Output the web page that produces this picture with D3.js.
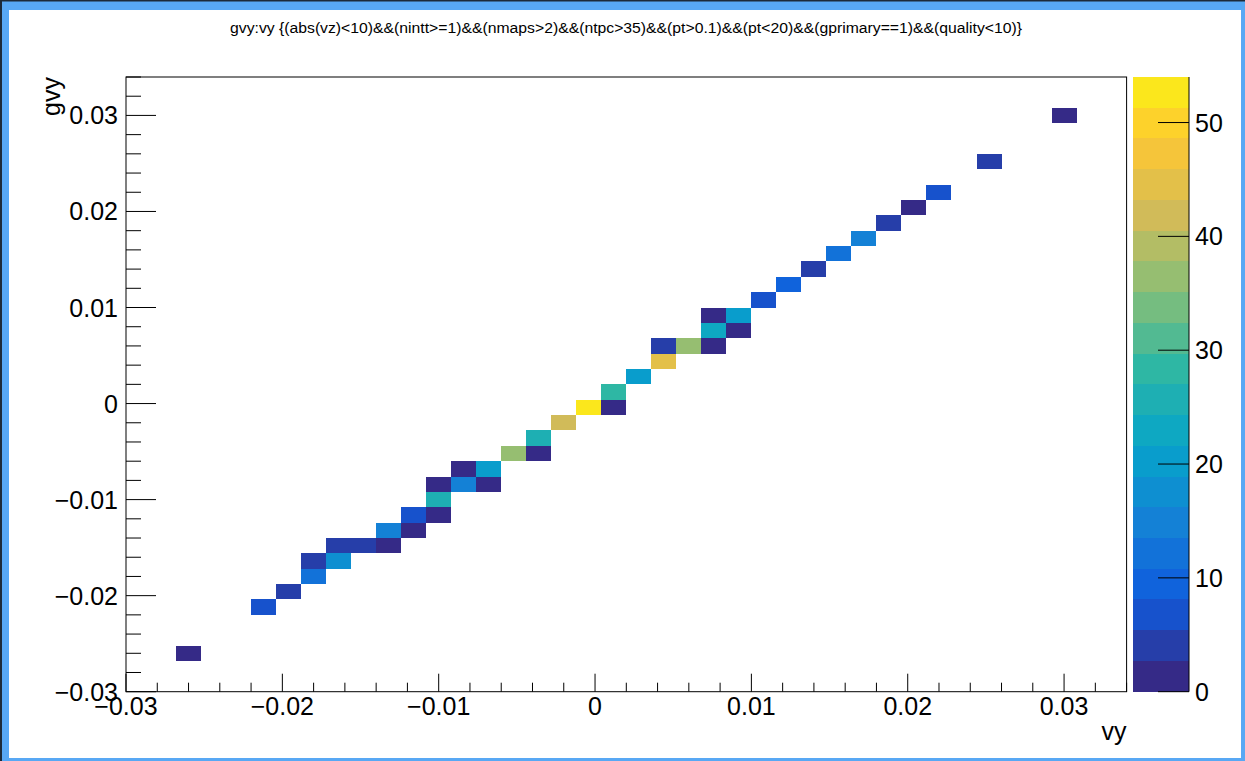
<!DOCTYPE html>
<html>
<head>
<meta charset="utf-8">
<script src="https://cdn.jsdelivr.net/npm/d3@7"></script>
<style>
  html, body { margin: 0; padding: 0; background: #fff; overflow: hidden; }
  svg { display: block; }
</style>
</head>
<body>
<div id="chart"></div>
<script>
// gvy:vy 二维直方图（COLZ），40×40 bins，范围 [-0.03, 0.034]
// 每个非空 bin：vy 中心、gvy 中心、计数
const vy = [
  -0.026, -0.0212, -0.0196, -0.018, -0.018, -0.0164, -0.0164, -0.0148, -0.0132, -0.0132,
  -0.0116, -0.0116, -0.01, -0.01, -0.01, -0.0084, -0.0068, -0.0084, -0.0068, -0.0052,
  -0.0036, -0.0036, -0.002, -0.0004, 0.0012, 0.0012, 0.0028, 0.0044, 0.0044, 0.006,
  0.0076, 0.0076, 0.0092, 0.0076, 0.0092, 0.0108, 0.0124, 0.014, 0.0156, 0.0172,
  0.0188, 0.0204, 0.022, 0.0252, 0.03
];
const gvy = [
  -0.026, -0.0212, -0.0196, -0.018, -0.0164, -0.0164, -0.0148, -0.0148, -0.0148, -0.0132,
  -0.0132, -0.0116, -0.0116, -0.01, -0.0084, -0.0084, -0.0084, -0.0068, -0.0068, -0.0052,
  -0.0052, -0.0036, -0.002, -0.0004, -0.0004, 0.0012, 0.0028, 0.0044, 0.006, 0.006,
  0.006, 0.0076, 0.0076, 0.0092, 0.0092, 0.0108, 0.0124, 0.014, 0.0156, 0.0172,
  0.0188, 0.0204, 0.022, 0.0252, 0.03
];
const counts = [
  1, 7, 4, 12, 4, 17, 4, 4, 1, 14,
  1, 7, 1, 26, 1, 14, 1, 1, 20, 37,
  1, 26, 42, 54, 1, 28, 20, 45, 4, 37,
  1, 23, 1, 1, 20, 7, 10, 4, 12, 15,
  4, 1, 7, 4, 1
];
const BIN_W = 0.0016;
const AXIS_MIN = -0.03, AXIS_MAX = 0.034;
const Z_MAX = 54, N_CONT = 20;

const xTicks = [-0.03, -0.02, -0.01, 0, 0.01, 0.02, 0.03];
const xTickLabels = ["\u22120.03", "\u22120.02", "\u22120.01", "0", "0.01", "0.02", "0.03"];
const yTicks = [-0.03, -0.02, -0.01, 0, 0.01, 0.02, 0.03];
const yTickLabels = ["\u22120.03", "\u22120.02", "\u22120.01", "0", "0.01", "0.02", "0.03"];
const zTicks = [0, 10, 20, 30, 40, 50];
const TITLE = "gvy:vy {(abs(vz)<10)&&(nintt>=1)&&(nmaps>2)&&(ntpc>35)&&(pt>0.1)&&(pt<20)&&(gprimary==1)&&(quality<10)}";

// kBird 调色板节点
const birdStops = [0.0000, 0.1250, 0.2500, 0.3750, 0.5000, 0.6250, 0.7500, 0.8750, 1.0000];
const birdR = [0.2082, 0.0592, 0.0780, 0.0232, 0.1802, 0.5301, 0.8186, 0.9956, 0.9764];
const birdG = [0.1664, 0.3599, 0.5041, 0.6419, 0.7178, 0.7492, 0.7328, 0.7862, 0.9832];
const birdB = [0.5293, 0.8684, 0.8385, 0.7914, 0.6425, 0.4662, 0.3499, 0.1968, 0.0539];

(() => {
  const W = 1245, H = 761;
  const FONT = "'Liberation Sans', Arial, Helvetica, sans-serif";
  const FX0 = 126, FX1 = 1126.6, FY0 = 77, FY1 = 691.7;   // 绘图框
  const PX0 = 1133, PX1 = 1189;                          // 色标

  const bird = d3.scaleLinear()
    .domain(birdStops)
    .range(birdStops.map((s, i) => d3.rgb(birdR[i] * 255, birdG[i] * 255, birdB[i] * 255).toString()))
    .interpolate(d3.interpolateRgb);
  const bandColor = k => bird(k / N_CONT);
  const levelOf = v => Math.min(N_CONT - 1, Math.floor(0.01 + v * N_CONT / Z_MAX));

  const svg = d3.select("#chart").append("svg")
    .attr("width", W).attr("height", H).attr("viewBox", `0 0 ${W} ${H}`);

  // 画布边框
  svg.append("rect").attr("x", 0).attr("y", 0).attr("width", W).attr("height", H).attr("fill", "#58a8f4");
  svg.append("rect").attr("x", 0).attr("y", 0).attr("width", W).attr("height", 1.5).attr("fill", "#1d2a38");
  svg.append("rect").attr("x", 0).attr("y", 0).attr("width", 2).attr("height", H).attr("fill", "#1d2a38");
  svg.append("rect").attr("x", 9).attr("y", 10).attr("width", 1232).attr("height", 748).attr("fill", "#fff");

  const x = d3.scaleLinear().domain([AXIS_MIN, AXIS_MAX]).range([FX0, FX1]);
  const y = d3.scaleLinear().domain([AXIS_MIN, AXIS_MAX]).range([FY1, FY0]);
  const z = d3.scaleLinear().domain([0, Z_MAX]).range([FY1, FY0]);

  // bins
  const cells = counts.map((c, i) => ({ vx: vy[i], vy: gvy[i], c }));
  svg.append("g").attr("shape-rendering", "crispEdges")
    .selectAll("rect").data(cells).join("rect")
    .attr("x", d => x(d.vx - BIN_W / 2))
    .attr("y", d => y(d.vy + BIN_W / 2))
    .attr("width", d => x(d.vx + BIN_W / 2) - x(d.vx - BIN_W / 2))
    .attr("height", d => y(d.vy - BIN_W / 2) - y(d.vy + BIN_W / 2))
    .attr("fill", d => bandColor(levelOf(d.c)));

  // 框
  svg.append("rect").attr("x", FX0).attr("y", FY0)
    .attr("width", FX1 - FX0).attr("height", FY1 - FY0)
    .attr("fill", "none").attr("stroke", "#000").attr("stroke-width", 1);

  // 刻度
  const minor = d3.range(0, 33).map(k => AXIS_MIN + k * 0.002);
  const tg = svg.append("g").attr("stroke", "#000").attr("stroke-width", 1);
  minor.forEach(v => {
    const major = xTicks.some(t => Math.abs(t - v) < 1e-9);
    tg.append("line").attr("x1", x(v)).attr("x2", x(v))
      .attr("y1", FY1).attr("y2", FY1 - (major ? 18 : 9));
    tg.append("line").attr("x1", FX0).attr("x2", FX0 + (major ? 30 : 15))
      .attr("y1", y(v)).attr("y2", y(v));
  });

  const lab = svg.append("g").attr("fill", "#000")
    .style("font-family", FONT).style("font-size", "25px");
  xTicks.forEach((t, i) => {
    lab.append("text").attr("x", x(t)).attr("y", 715)
      .attr("text-anchor", "middle").text(xTickLabels[i]);
  });
  yTicks.forEach((t, i) => {
    lab.append("text").attr("x", 118).attr("y", y(t) + 9)
      .attr("text-anchor", "end").text(yTickLabels[i]);
  });

  // 轴标题
  lab.append("text").attr("x", FX1).attr("y", 740).attr("text-anchor", "end").text("vy");
  lab.append("text").attr("transform", `translate(60, ${FY0}) rotate(-90)`)
    .attr("text-anchor", "end").text("gvy");

  // 色标
  const bands = d3.range(N_CONT);
  svg.append("g").attr("shape-rendering", "crispEdges")
    .selectAll("rect").data(bands).join("rect")
    .attr("x", PX0).attr("width", PX1 - PX0)
    .attr("y", k => z((k + 1) * Z_MAX / N_CONT))
    .attr("height", k => z(k * Z_MAX / N_CONT) - z((k + 1) * Z_MAX / N_CONT))
    .attr("fill", k => bandColor(k));
  svg.append("line").attr("x1", PX1).attr("x2", PX1).attr("y1", FY0).attr("y2", FY1)
    .attr("stroke", "#000");
  zTicks.forEach(t => {
    svg.append("line").attr("x1", PX1 - 31).attr("x2", PX1)
      .attr("y1", z(t)).attr("y2", z(t)).attr("stroke", "#000");
    lab.append("text").attr("x", 1195).attr("y", z(t) + 9).text(String(t));
  });

  // 标题
  svg.append("text").attr("x", 626).attr("y", 33)
    .attr("text-anchor", "middle")
    .attr("textLength", 792).attr("lengthAdjust", "spacingAndGlyphs")
    .style("font-family", FONT).style("font-size", "14px").attr("fill", "#000")
    .text(TITLE);
})();
</script>
</body>
</html>
